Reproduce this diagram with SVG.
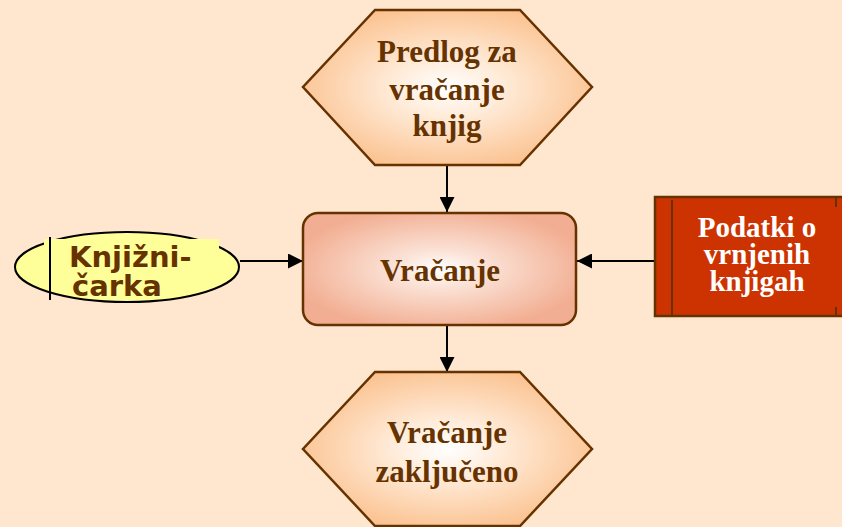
<svg xmlns="http://www.w3.org/2000/svg" width="842" height="527" viewBox="0 0 842 527">
  <defs>
    <radialGradient id="hexFill" cx="50%" cy="50%" r="55%">
      <stop offset="0" stop-color="#FFFFFF"/>
      <stop offset="0.35" stop-color="#FFEBD8"/>
      <stop offset="1" stop-color="#FBC18E"/>
    </radialGradient>
    <radialGradient id="procFill" cx="50%" cy="50%" r="55%">
      <stop offset="0" stop-color="#FFFFFF"/>
      <stop offset="0.3" stop-color="#FBE2D6"/>
      <stop offset="1" stop-color="#F2AE92"/>
    </radialGradient>
    <marker id="arrow" viewBox="0 0 10 10" refX="10" refY="5" markerWidth="15" markerHeight="15" markerUnits="userSpaceOnUse" orient="auto">
      <path d="M0,0 L10,5 L0,10 z" fill="#000"/>
    </marker>
    <style>
      .edge { stroke: #000; stroke-width: 2; fill: none; marker-end: url(#arrow); }
      .hex { fill: url(#hexFill); stroke: #663300; stroke-width: 2.5; }
      .serif { font-family: "Liberation Serif", "Times New Roman", serif; font-weight: bold; text-anchor: middle; }
      .brown { fill: #663300; }
      .sans { font-family: "DejaVu Sans", Verdana, sans-serif; font-weight: bold; fill: #663300; }
    </style>
  </defs>

  <rect x="0" y="0" width="842" height="527" fill="#FFE6CE"/>

  <g id="connectors">
    <line class="edge" x1="447" y1="165" x2="447" y2="212"/>
    <line class="edge" x1="447" y1="325" x2="447" y2="372"/>
    <line class="edge" x1="240" y1="261" x2="303" y2="261"/>
    <line class="edge" x1="655" y1="261" x2="577" y2="261"/>
  </g>

  <g id="trigger">
    <polygon class="hex" points="375,10 520,10 592,87 520,165 375,165 303,87"/>
    <text class="serif brown" font-size="31" x="447" y="62">Predlog za</text>
    <text class="serif brown" font-size="31" x="447" y="100">vračanje</text>
    <text class="serif brown" font-size="31" x="447" y="136">knjig</text>
  </g>

  <g id="process">
    <rect x="303" y="213" width="273" height="112" rx="15" ry="15" fill="url(#procFill)" stroke="#663300" stroke-width="2.5"/>
    <text class="serif brown" font-size="31" x="440" y="281">Vračanje</text>
  </g>

  <g id="result">
    <polygon class="hex" points="375,372 520,372 592,449 520,526 375,526 303,449"/>
    <text class="serif brown" font-size="31" x="447" y="443">Vračanje</text>
    <text class="serif brown" font-size="31" x="447" y="482">zaključeno</text>
  </g>

  <g id="actor">
    <ellipse cx="127" cy="267" rx="112" ry="35" fill="#FFFF99" stroke="#000" stroke-width="2"/>
    <rect x="44" y="239" width="175" height="40" fill="#FFFF99"/>
    <line x1="50" y1="237" x2="50" y2="300" stroke="#000" stroke-width="2"/>
    <text class="sans" font-size="29" x="69" y="267">Knjižni-</text>
    <text class="sans" font-size="29" x="72" y="296">čarka</text>
  </g>

  <g id="data">
    <rect x="655" y="197" width="200" height="119" fill="#CC3300" stroke="#663300" stroke-width="2.5"/>
    <line x1="672" y1="200" x2="672" y2="316" stroke="#663300" stroke-width="2"/>
    <line x1="836" y1="197" x2="836" y2="207" stroke="#663300" stroke-width="2"/>
    <line x1="836" y1="307" x2="836" y2="316" stroke="#663300" stroke-width="2"/>
    <text class="serif" fill="#FFFFFF" font-size="29" x="757" y="237">Podatki o</text>
    <text class="serif" fill="#FFFFFF" font-size="29" x="757" y="264">vrnjenih</text>
    <text class="serif" fill="#FFFFFF" font-size="29" x="757" y="291">knjigah</text>
  </g>
</svg>
